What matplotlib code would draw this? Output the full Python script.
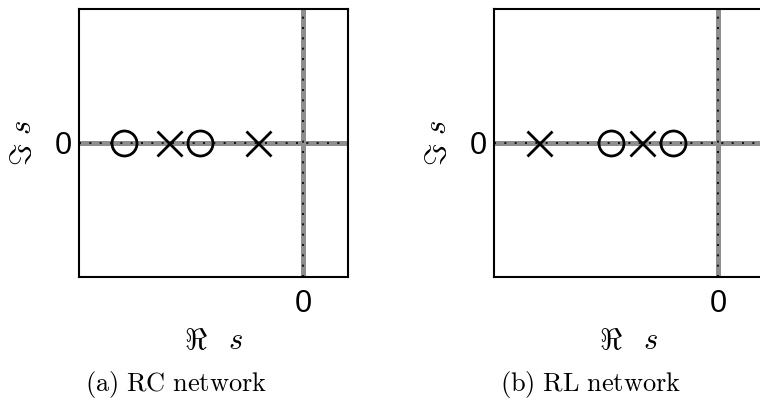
import matplotlib
matplotlib.use('Agg')
import matplotlib.pyplot as plt

plt.rcParams['mathtext.fontset'] = 'cm'
plt.rcParams['font.family'] = ['Liberation Sans', 'DejaVu Sans']

# pole / zero locations on the real axis
rc_poles = [-3.0, -1.0]
rc_zeros = [-4.0, -2.3]
rl_poles = [-4.0, -1.7]
rl_zeros = [-2.4, -1.0]

captions = [r'$\mathrm{(a)\ RC\ network}$', r'$\mathrm{(b)\ RL\ network}$']
caption_x = [176, 591]

W, H = 760, 405
fig = plt.figure(figsize=(W / 100, H / 100), dpi=100)

def pz_axes(left, poles, zeros, caption, cx):
    ax = fig.add_axes([left / W, (H - 277) / H, 269 / W, 268 / H])
    ax.set_xlim(-5, 1)
    ax.set_ylim(-3, 3)
    # real and imaginary axes: thick grey with a dotted black core
    for draw in (ax.axhline, ax.axvline):
        draw(0, color='#8e8e8e', lw=3.6, zorder=1)
        draw(0, color='black', lw=1.2, ls=(0, (1.2, 5)), zorder=2)
    ax.plot(poles, [0] * len(poles), ls='none', marker='x', ms=18,
            mew=2.0, color='black', zorder=3)
    ax.plot(zeros, [0] * len(zeros), ls='none', marker='o', ms=18,
            mew=2.0, mfc='none', mec='black', zorder=3)
    ax.set_xticks([0])
    ax.set_yticks([0])
    ax.tick_params(axis='both', length=0, labelsize=22)
    ax.tick_params(axis='x', pad=9)
    ax.tick_params(axis='y', pad=5)
    for sp in ax.spines.values():
        sp.set_linewidth(1.5)
    ax.set_xlabel(r'$\Re\ \enspace s$', fontsize=22, labelpad=5)
    ax.set_ylabel(r'$\Im\ s$', fontsize=22, labelpad=12)
    fig.text(cx / W, 1 - 385 / H, caption, ha='center', va='center',
             fontsize=19)
    return ax

pz_axes(79, rc_poles, rc_zeros, captions[0], caption_x[0])
pz_axes(494, rl_poles, rl_zeros, captions[1], caption_x[1])

plt.savefig('out.png', dpi=100)
